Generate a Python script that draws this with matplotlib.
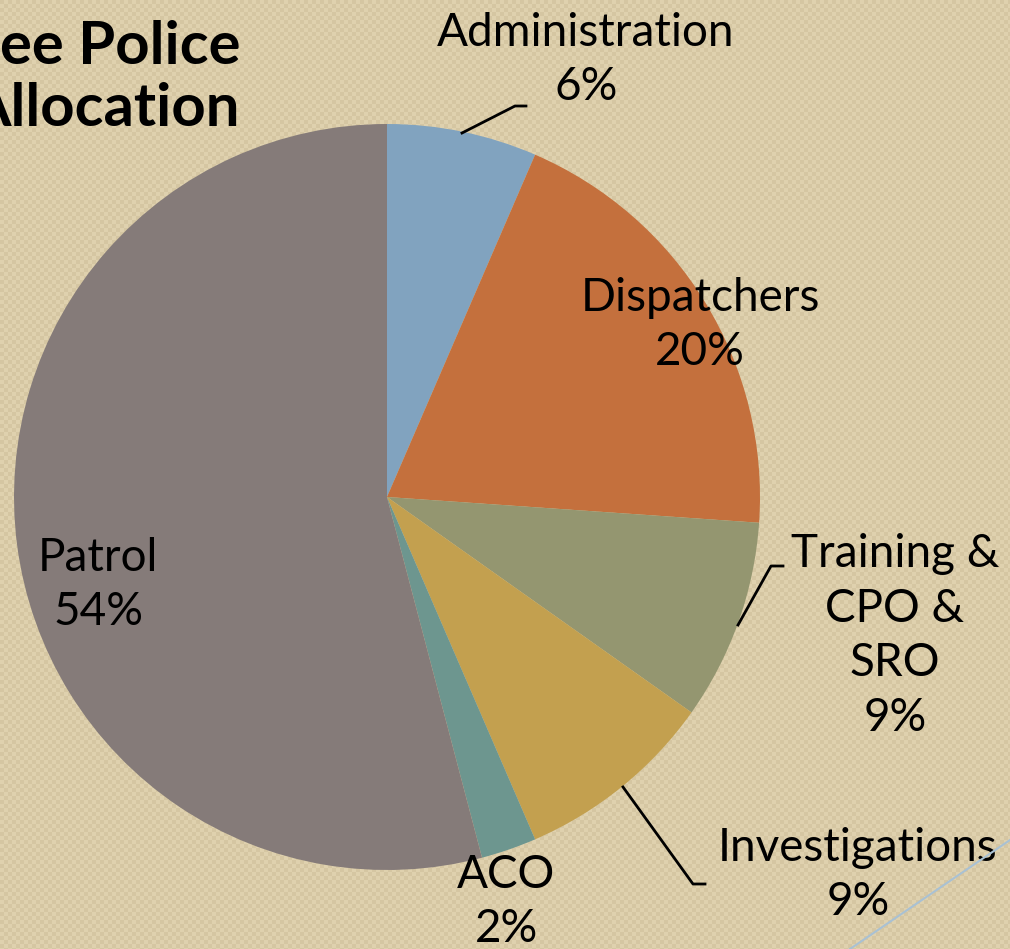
import numpy as np
import matplotlib.pyplot as plt
from matplotlib.lines import Line2D

# slice data, clockwise from 12 o'clock (shares)
categories = ['Administration', 'Dispatchers', 'Training &\nCPO &\nSRO',
              'Investigations', 'ACO', 'Patrol']
shares = [6.5, 19.6, 8.7, 8.7, 2.4, 54.1]
pct_labels = ['6%', '20%', '9%', '9%', '2%', '54%']
colors = ['#81A3BF', '#C4703D', '#949670', '#C3A04F', '#6D968F', '#857B79']

W, H = 1010, 949
CX, CY, R = 387, 497, 373   # pie centre and radius in pixels


def to_data(px, py):
    '''pixel position (from top left) -> pie data coords'''
    return (px - CX) / R, (CY - py) / R


fig = plt.figure(figsize=(W / 100, H / 100), dpi=100)

# checkered beige backdrop in its own axes behind everything
yy, xx = np.mgrid[0:H, 0:W]
check = ((xx // 4 + yy // 4) % 2).astype(float)
dark = np.array([0xD5, 0xC6, 0xA2]) / 255
light = np.array([0xDF, 0xD1, 0xAE]) / 255
bg = dark[None, None, :] * (1 - check[..., None]) + light[None, None, :] * check[..., None]
bg_ax = fig.add_axes([0, 0, 1, 1], zorder=-1)
bg_ax.imshow(bg, interpolation='nearest', aspect='auto')
bg_ax.axis('off')

ax = fig.add_axes([(CX - R) / W, (H - CY - R) / H, 2 * R / W, 2 * R / H], zorder=1)
ax.set_facecolor('none')
ax.pie(shares, colors=colors, startangle=90, counterclock=False, radius=1,
       wedgeprops=dict(linewidth=0))
ax.set_xlim(-1, 1)
ax.set_ylim(-1, 1)
ax.set_aspect('equal')
ax.axis('off')

font = ['Lato', 'DejaVu Sans']
label_pos = [(586, 60), (700, 325), (895, 636), (858, 875), (506, 902), (98, 585)]
for name, pct, (px, py) in zip(categories, pct_labels, label_pos):
    x, y = to_data(px, py)
    ax.text(x, y, name + '\n' + pct, ha='center', va='center',
            fontsize=33, family=font, linespacing=1.38, clip_on=False)

# leader lines
leaders = [[(462, 133), (515, 106), (526, 106)],
           [(738, 625), (771, 566), (783, 566)],
           [(623, 787), (693, 884), (705, 884)]]
for pts in leaders:
    xs, ys = zip(*[to_data(*p) for p in pts])
    ax.plot(xs, ys, color='black', lw=2, clip_on=False)

# title (cropped on the left in the original slide)
fig.text(240 / W, 1 - 78 / H, 'ee Police\nAllocation', ha='right', va='center',
         fontsize=43, fontweight='bold', family=font, linespacing=1.18)

# thin slide decoration line bottom right
fig.add_artist(Line2D([1010 / W, 850 / W], [1 - 840 / H, 0], color='#A9C1D3', lw=1.5))

fig.savefig('out.png', dpi=100)
